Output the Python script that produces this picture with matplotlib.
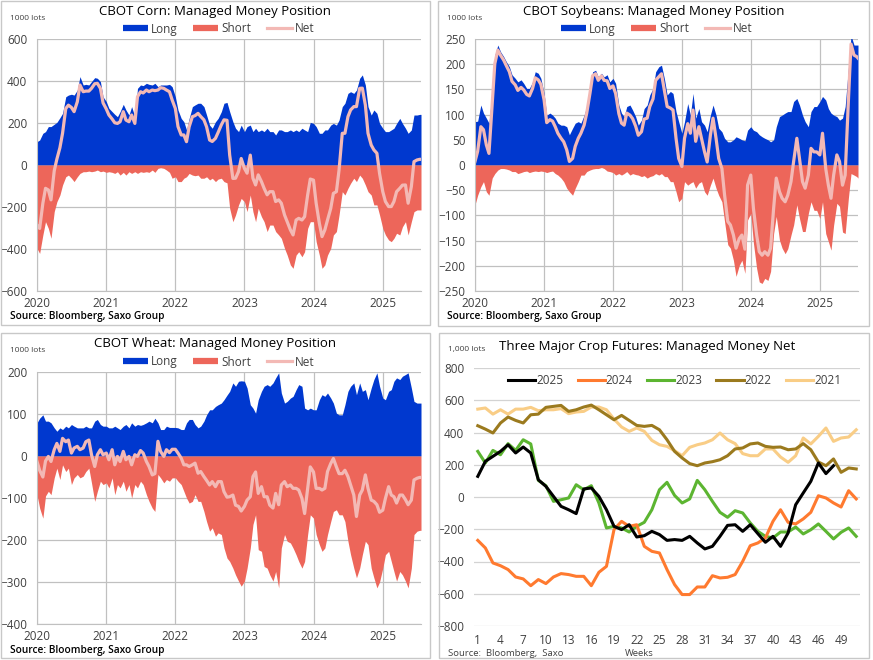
import numpy as np
import pandas as pd
import matplotlib
matplotlib.use("Agg")
import matplotlib.pyplot as plt
import matplotlib.dates as mdates
from matplotlib.lines import Line2D
from matplotlib.patches import Rectangle

plt.rcParams['font.family'] = ['Open Sans', 'DejaVu Sans']

# fechas quincenales 2020-01-01 .. 2025-07-15 + ultimo dato
fechas = list(pd.date_range('2020-01-01', '2025-07-15', freq='SMS')) + [pd.Timestamp('2025-07-22')]

# Maiz (1000 lots)
corn_long = [111, 119, 151, 159, 183, 183, 194, 203, 225, 246, 325, 333, 337, 333, 357, 421, 381, 384, 381, 397, 416, 413, 397, 325,
             302, 270, 254, 241, 230, 254, 289, 262, 238, 278, 230, 365, 381, 378, 389, 384, 381, 389, 373, 381, 381, 381, 384, 373,
             325, 262, 222, 206, 167, 222, 278, 286, 294, 294, 278, 238, 190, 175, 206, 222, 254, 294, 298, 254, 206, 175, 159, 190,
             159, 183, 190, 159, 175, 159, 167, 159, 175, 159, 159, 143, 167, 167, 159, 159, 167, 159, 167, 159, 175, 167, 159, 203,
             198, 183, 151, 151, 167, 167, 190, 198, 190, 214, 278, 294, 341, 349, 341, 357, 413, 429, 381, 278, 238, 262, 246, 198,
             175, 159, 159, 167, 175, 198, 222, 198, 175, 151, 167, 238, 238, 241, 241]
corn_short = [-397, -421, -333, -270, -302, -349, -222, -175, -143, -95, -56, -48, -63, -79, -56, -40, -32, -32, -29, -32, -29, -24, -32, -29,
              -35, -32, -35, -40, -32, -48, -35, -48, -32, -40, -32, -40, -32, -35, -32, -35, -24, -35, -16, -13, -16, -24, -35, -63,
              -56, -79, -79, -63, -56, -40, -48, -51, -48, -63, -63, -56, -71, -63, -79, -67, -63, -79, -85, -206, -270, -238, -190, -159,
              -175, -222, -143, -222, -270, -206, -246, -270, -317, -286, -286, -317, -333, -349, -397, -429, -476, -492, -429, -413, -437, -413, -302, -270,
              -270, -365, -429, -492, -476, -429, -397, -333, -317, -238, -127, -143, -111, -87, -63, -79, -48, -63, -95, -127, -143, -190, -190, -238,
              -302, -333, -357, -365, -349, -325, -333, -294, -270, -333, -270, -222, -214, -214, -214]

# Soja
soy_long = [86, 87, 119, 103, 93, 83, 146, 218, 238, 225, 215, 205, 195, 179, 172, 165, 169, 162, 152, 152, 165, 185, 182, 172,
            142, 99, 103, 99, 93, 83, 79, 79, 76, 60, 73, 83, 86, 83, 99, 116, 152, 185, 188, 175, 182, 175, 179, 165,
            172, 162, 119, 103, 96, 116, 119, 109, 96, 79, 89, 112, 119, 139, 152, 185, 195, 198, 170, 139, 146, 142, 106, 86,
            63, 86, 122, 99, 142, 93, 112, 86, 79, 66, 99, 119, 99, 73, 66, 53, 46, 46, 50, 56, 53, 50, 48, 69,
            76, 69, 66, 60, 56, 53, 50, 46, 50, 76, 96, 99, 103, 106, 106, 126, 132, 119, 99, 86, 76, 106, 116, 116,
            126, 136, 129, 112, 103, 99, 96, 89, 93, 116, 192, 257, 238, 238, 238]
soy_short = [-79, -60, -43, -33, -53, -60, -26, -17, -10, -7, -7, -8, -10, -13, -13, -17, -15, -13, -12, -15, -13, -12, -13, -12,
             -13, -15, -13, -12, -17, -20, -26, -33, -46, -53, -60, -46, -33, -20, -20, -13, -10, -8, -7, -7, -5, -7, -12, -13,
             -15, -20, -17, -20, -17, -13, -20, -17, -19, -20, -23, -21, -26, -23, -21, -17, -20, -17, -23, -23, -33, -33, -53, -73,
             -66, -33, -40, -36, -33, -46, -36, -33, -53, -60, -40, -26, -46, -60, -73, -112, -158, -165, -189, -221, -199, -189, -215, -109,
             -96, -155, -205, -232, -235, -225, -229, -211, -136, -102, -149, -165, -176, -166, -139, -119, -79, -106, -132, -132, -96, -73, -90, -90,
             -106, -73, -136, -152, -169, -119, -76, -82, -133, -136, -66, -17, -20, -23, -26]

# Trigo
wheat_long = [79, 90, 98, 83, 83, 79, 67, 59, 67, 63, 71, 67, 75, 71, 67, 67, 67, 71, 67, 67, 83, 87, 75, 71,
              71, 67, 67, 71, 67, 63, 71, 75, 67, 79, 71, 75, 73, 75, 79, 83, 79, 90, 79, 63, 63, 71, 68, 68,
              68, 67, 63, 63, 79, 87, 87, 75, 67, 71, 83, 98, 110, 110, 118, 122, 126, 134, 145, 154, 174, 166, 178, 179,
              178, 162, 122, 114, 102, 134, 154, 166, 170, 166, 174, 186, 198, 150, 126, 130, 138, 142, 158, 170, 166, 114, 110, 114,
              110, 110, 134, 146, 142, 150, 138, 126, 102, 98, 98, 122, 154, 166, 174, 146, 174, 154, 158, 134, 162, 182, 198, 166,
              138, 134, 154, 158, 178, 186, 182, 190, 194, 198, 162, 130, 126, 126, 126]
wheat_short = [-92, -124, -148, -95, -84, -92, -52, -29, -56, -21, -37, -29, -68, -52, -44, -52, -48, -37, -29, -64, -108, -84, -60, -68,
               -64, -76, -52, -92, -68, -76, -60, -84, -68, -100, -68, -76, -60, -68, -92, -108, -124, -132, -44, -52, -64, -56, -60, -52,
               -52, -60, -68, -84, -100, -112, -108, -92, -108, -108, -132, -156, -179, -171, -191, -183, -187, -219, -243, -251, -267, -283, -298, -310,
               -298, -267, -219, -163, -140, -223, -227, -263, -267, -283, -298, -275, -314, -219, -187, -203, -207, -219, -235, -251, -267, -251, -187, -140,
               -148, -187, -211, -227, -219, -187, -156, -132, -128, -140, -140, -156, -203, -235, -267, -290, -267, -235, -203, -211, -267, -290, -314, -300,
               -267, -235, -227, -251, -275, -298, -275, -283, -298, -314, -267, -187, -179, -177, -177]

# Tres cultivos: neto por semana
semanas = list(range(1, 52))
net_2025 = [128, 221, 252, 283, 324, 273, 310, 273, 107, 66, 4, -58, -79, -103, 50, 56,
            4, -79, -182, -202, -172, -248, -240, -213, -233, -269, -264, -269, -244, -285,
            -322, -306, -244, -176, -172, -213, -172, -227, -281, -244, -306, -223, -48, 25,
            97, 211, 145, 194]
net_2024 = [-269, -316, -409, -426, -450, -496, -508, -550, -512, -537, -496, -475, -481,
            -492, -492, -550, -467, -430, -202, -151, -182, -172, -306, -337, -347, -450,
            -543, -605, -605, -558, -558, -488, -502, -498, -481, -399, -302, -285, -254,
            -151, -79, -157, -167, -136, -95, 8, -6, -37, -62, 39, -12]
net_2023 = [283, 211, 289, 262, 331, 289, 355, 329, 103, 70, -27, -17, -6, 76, 45, 70,
            -37, -192, -182, -192, -217, -182, -157, -79, 45, 91, 10, -37, -12, 103, 45,
            -27, -95, -126, -85, -99, -161, -213, -244, -254, -217, -217, -186, -229, -203,
            -167, -213, -260, -219, -192, -244]
net_2022 = [442, 421, 397, 459, 496, 475, 459, 510, 514, 556, 562, 568, 531, 541, 558,
            570, 541, 510, 479, 506, 475, 444, 438, 444, 417, 355, 283, 242, 207, 194, 211,
            219, 231, 256, 298, 304, 329, 335, 314, 308, 310, 293, 298, 331, 293, 217, 194,
            236, 153, 180, 174]
net_2021 = [545, 552, 514, 541, 514, 545, 545, 556, 535, 541, 541, 548, 517, 527, 531,
            558, 558, 541, 483, 434, 407, 428, 407, 351, 324, 314, 287, 256, 308, 324, 335,
            355, 397, 355, 331, 269, 256, 256, 298, 298, 248, 215, 256, 366, 329, 376, 428,
            345, 366, 372, 417]

AZUL = '#0038cf'
ROJO = '#ed665a'
ROSA = '#f3b9b5'
GRIS = '#404040'

W, H = 873, 660
fig = plt.figure(figsize=(W / 100, H / 100), dpi=100)


def caja(x0, y0, x1, y1):
    fig.patches.append(Rectangle((x0 / W, 1 - y1 / H), (x1 - x0) / W, (y1 - y0) / H,
                                 transform=fig.transFigure, fill=False,
                                 edgecolor='#c8c8c8', lw=1))


def ejes(x0, y0, x1, y1):
    return fig.add_axes([x0 / W, 1 - y1 / H, (x1 - x0) / W, (y1 - y0) / H])


def texto(x, y, s, **kw):
    fig.text(x / W, 1 - y / H, s, va='center', **kw)


def panel_area(box, axbox, titulo, tx, lx, largo, corto, ylim, paso):
    caja(*box)
    ax = ejes(*axbox)
    neto = [l + c for l, c in zip(largo, corto)]
    ax.fill_between(fechas, 0, largo, color=AZUL, lw=0)
    ax.fill_between(fechas, corto, 0, color=ROJO, lw=0)
    ax.plot(fechas, neto, color=ROSA, lw=2.3)
    ax.set_xlim(fechas[0], fechas[-1])
    ax.set_ylim(*ylim)
    ax.set_yticks(np.arange(ylim[0], ylim[1] + 1, paso))
    ax.xaxis.set_major_locator(mdates.YearLocator())
    ax.xaxis.set_major_formatter(mdates.DateFormatter('%Y'))
    ax.grid(True, color='#c0c0c0', lw=0.9)
    ax.set_axisbelow(True)
    for s in ['top', 'right']:
        ax.spines[s].set_visible(False)
    for s in ['left', 'bottom']:
        ax.spines[s].set_color('#c0c0c0')
    ax.tick_params(length=0, labelsize=8.5, colors=GRIS)
    ax.tick_params(axis='y', pad=7)
    ax.tick_params(axis='x', pad=4)
    top = axbox[1]
    x0 = box[0]
    texto(tx, top - 28, titulo, ha='center', fontsize=9.5, color='black')
    texto(x0 + 9, top - 21, '1000 lots', ha='left', fontsize=6, color=GRIS)
    handles = [Line2D([], [], color=AZUL, lw=4.5, solid_capstyle='butt'),
               Line2D([], [], color=ROJO, lw=4.5, solid_capstyle='butt'),
               Line2D([], [], color=ROSA, lw=2.3)]
    fig.legend(handles, ['Long', 'Short', 'Net'], loc='center',
               bbox_to_anchor=(lx / W, 1 - (top - 10) / H), ncol=3, frameon=False,
               fontsize=8.5, handlelength=2.1, handletextpad=0.3, columnspacing=1.3,
               labelcolor=GRIS, borderpad=0)
    texto(x0 + 9, axbox[3] + 26, 'Source: Bloomberg, Saxo Group', ha='left',
          fontsize=7.3, color='black', fontweight='semibold')


panel_area((1, 1, 430, 325), (37, 39, 421, 291), 'CBOT Corn: Managed Money Position',
           215, 219, corn_long, corn_short, (-600, 600), 200)
panel_area((438, 1, 869, 326), (475, 39, 858, 291), 'CBOT Soybeans: Managed Money Position',
           654, 657, soy_long, soy_short, (-250, 250), 50)
panel_area((1, 333, 430, 658), (37, 372, 421, 624), 'CBOT Wheat: Managed Money Position',
           215, 219, wheat_long, wheat_short, (-400, 200), 100)

# panel de lineas
caja(439, 333, 869, 658)
ax4 = ejes(474, 368, 860, 626)
ax4.plot(semanas, net_2021, color='#f9cd86', lw=2.2, label='2021')
ax4.plot(semanas, net_2022, color='#9b7a1e', lw=2.2, label='2022')
ax4.plot(semanas, net_2023, color='#5cb531', lw=2.2, label='2023')
ax4.plot(semanas, net_2024, color='#ff7a2f', lw=2.2, label='2024')
ax4.plot(semanas[:len(net_2025)], net_2025, color='black', lw=2.2, label='2025')
ax4.set_xlim(0.5, 51.5)
ax4.set_xticks(np.arange(1, 50, 3))
ax4.set_ylim(-800, 800)
ax4.set_yticks(np.arange(-800, 801, 200))
ax4.grid(axis='y', color='#d3d3d3', lw=0.9)
ax4.set_axisbelow(True)
for s in ax4.spines.values():
    s.set_visible(False)
ax4.tick_params(length=0, labelsize=8.5, colors=GRIS)
ax4.tick_params(axis='y', pad=7)
ax4.tick_params(axis='x', pad=6)
h, l = ax4.get_legend_handles_labels()
ax4.legend(h[::-1], l[::-1], loc='center', bbox_to_anchor=(0.52, 0.95), ncol=5,
           frameon=False, fontsize=8.5, handlelength=2.3, handletextpad=0.1,
           columnspacing=1.2, labelcolor=GRIS, borderpad=0)
texto(448, 349, '1,000 lots', ha='left', fontsize=6, color=GRIS)
texto(499, 346, 'Three Major Crop Futures: Managed Money Net', ha='left', fontsize=9.5,
      color='black')
texto(448, 653, 'Source:  Bloomberg,  Saxo', ha='left', fontsize=6.8, color=GRIS)
texto(625, 653, 'Weeks', ha='left', fontsize=6.8, color=GRIS)

fig.savefig('out.png', dpi=100)
